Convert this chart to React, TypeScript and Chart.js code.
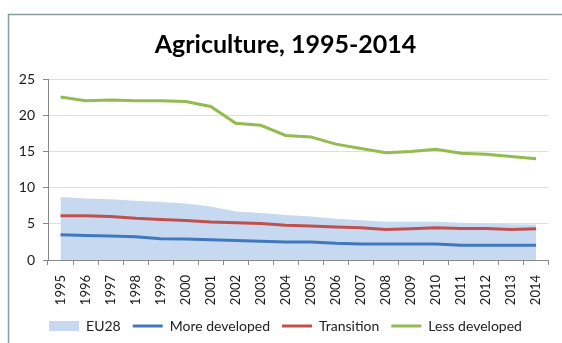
import React, { useEffect, useRef } from "react";
import { Chart, registerables } from "chart.js";

Chart.register(...registerables);

const years = ["1995","1996","1997","1998","1999","2000","2001","2002","2003","2004","2005","2006","2007","2008","2009","2010","2011","2012","2013","2014"];
const eu28 = [8.7,8.5,8.4,8.2,8.0,7.8,7.4,6.7,6.5,6.2,6.0,5.7,5.5,5.3,5.3,5.3,5.15,5.05,4.95,4.9];
const moreDeveloped = [3.5,3.4,3.3,3.2,2.95,2.9,2.8,2.7,2.6,2.5,2.5,2.3,2.2,2.2,2.2,2.2,2.05,2.05,2.05,2.05];
const transition = [6.1,6.1,6.0,5.75,5.6,5.45,5.25,5.15,5.05,4.8,4.7,4.55,4.45,4.2,4.3,4.45,4.35,4.35,4.2,4.3];
const lessDeveloped = [22.5,22.0,22.1,22.0,22.0,21.9,21.2,18.9,18.6,17.2,17.0,16.0,15.4,14.8,15.0,15.3,14.75,14.6,14.3,14.0];
const titleText = "Agriculture, 1995-2014";

const FONT = "Lato, 'Open Sans', sans-serif";

const framePlugin = {
  id: "frame",
  afterLayout(chart: any) {
    // let the y-axis tick labels use the space left of the axis box
    if (chart.scales.y) chart.scales.y.left = 10;
  },
  beforeDraw(chart: any) {
    const ctx = chart.ctx;
    ctx.save();
    ctx.fillStyle = "#ffffff";
    ctx.fillRect(0, 0, chart.width, chart.height);
    ctx.strokeStyle = "#8a9b9b";
    ctx.lineWidth = 1.5;
    ctx.beginPath();
    ctx.moveTo(8.5, chart.height);
    ctx.lineTo(8.5, 14.5);
    ctx.lineTo(chart.width, 14.5);
    ctx.stroke();
    ctx.restore();
  },
};

export default function App() {
  const ref = useRef<HTMLCanvasElement>(null);
  useEffect(() => {
    const chart = new Chart(ref.current!, {
      type: "line",
      data: {
        labels: years,
        datasets: [
          { label: "EU28", data: eu28, fill: "origin", backgroundColor: "#c6d9f1", borderColor: "rgba(0,0,0,0)", borderWidth: 0, pointRadius: 0 },
          { label: "More developed", data: moreDeveloped, borderColor: "#4177be", borderWidth: 3, pointRadius: 0, fill: false },
          { label: "Transition", data: transition, borderColor: "#c0504d", borderWidth: 3, pointRadius: 0, fill: false },
          { label: "Less developed", data: lessDeveloped, borderColor: "#93bb4f", borderWidth: 3, pointRadius: 0, fill: false },
        ],
      },
      options: {
        responsive: false,
        animation: false,
        layout: { padding: { left: 22, right: 13, top: 16, bottom: 0 } },
        scales: {
          x: {
            offset: true,
            grid: { offset: true, drawOnChartArea: false, drawTicks: true, tickLength: 5, color: "#888888" },
            border: { color: "#888888", width: 1 },
            ticks: { minRotation: 90, maxRotation: 90, autoSkip: false, padding: 10, color: "#1a1a1a", font: { family: FONT, size: 13 } },
            afterFit: (s: any) => { s.height = 47; },
          },
          y: {
            min: 0,
            max: 25,
            ticks: { stepSize: 5, padding: 8, color: "#1a1a1a", font: { family: FONT, size: 14 } },
            grid: { color: "#dedede", tickColor: "#888888", tickLength: 5 },
            border: { color: "#888888", width: 1 },
            afterFit: (s: any) => { s.width = 26; },
          },
        },
        plugins: {
          filler: { drawTime: "beforeDatasetsDraw" },
          tooltip: { enabled: false },
          title: {
            display: true,
            text: titleText,
            color: "#000000",
            font: { family: FONT, size: 25, weight: "bold" },
            padding: { top: 14, bottom: 19 },
          },
          legend: {
            position: "bottom",
            labels: {
              usePointStyle: true,
              pointStyleWidth: 30,
              boxHeight: 10,
              padding: 12,
              color: "#222222",
              font: { family: FONT, size: 14 },
              generateLabels: (c: any) =>
                c.data.datasets.map((d: any, i: number) =>
                  i === 0
                    ? { text: d.label, fillStyle: "#c6d9f1", strokeStyle: "#c6d9f1", lineWidth: 0, pointStyle: "rect", datasetIndex: i, fontColor: "#222222" }
                    : { text: d.label, fillStyle: d.borderColor, strokeStyle: d.borderColor, lineWidth: 3, pointStyle: "line", datasetIndex: i, fontColor: "#222222" }
                ),
            },
          },
        },
      },
      plugins: [framePlugin],
    } as any);
    return () => chart.destroy();
  }, []);
  return (
    <div style={{ position: "fixed", left: 0, top: 0, width: 562, height: 343 }}>
      <canvas ref={ref} width={562} height={343} />
    </div>
  );
}
